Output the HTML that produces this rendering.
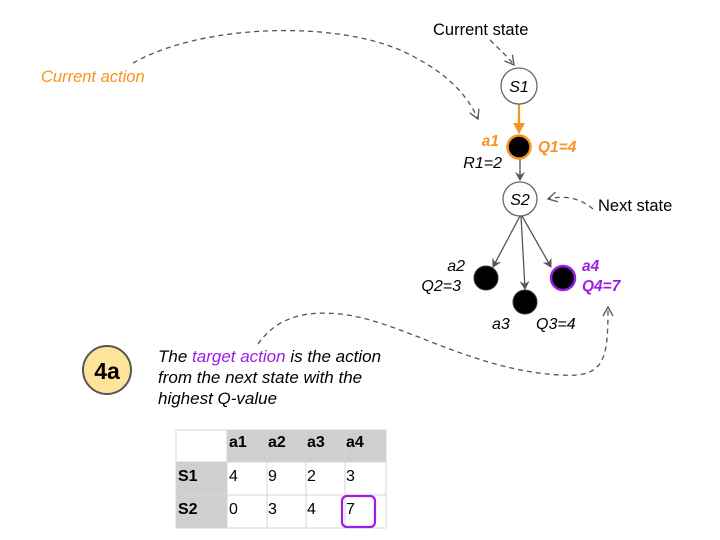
<!DOCTYPE html>
<html><head><meta charset="utf-8"><style>
html,body{margin:0;padding:0;background:#fff;}
svg{display:block;font-family:"Liberation Sans",Arial,sans-serif;}
</style></head><body>
<svg width="720" height="540" viewBox="0 0 720 540" xmlns="http://www.w3.org/2000/svg">
<defs>
<marker id="ag" markerWidth="10" markerHeight="10" refX="8" refY="5" orient="auto" markerUnits="userSpaceOnUse"><path d="M0,0 L9,5 L0,10 L3,5 Z" fill="#555"/></marker>
<marker id="ao" markerWidth="12" markerHeight="12" refX="10" refY="6" orient="auto" markerUnits="userSpaceOnUse"><path d="M0,0 L11,6 L0,12 Z" fill="#f7931e"/></marker>
<marker id="ad" markerWidth="12" markerHeight="12" refX="10" refY="6" orient="auto" markerUnits="userSpaceOnUse"><path d="M1,1 L10,6 L1,11" fill="none" stroke="#555" stroke-width="1.3"/></marker>
</defs>

<path d="M133,63 C200,25 330,20 400,50 C440,68 465,90 478,119" fill="none" stroke="#555" stroke-width="1.3" stroke-dasharray="5,4" marker-end="url(#ad)"/>
<path d="M490,40 C500,50 507,56 514,65" fill="none" stroke="#555" stroke-width="1.3" stroke-dasharray="5,4" marker-end="url(#ad)"/>
<path d="M593,209 C580,198 565,195 548,199" fill="none" stroke="#555" stroke-width="1.3" stroke-dasharray="5,4" marker-end="url(#ad)"/>
<path d="M258,344 C275,320 300,310 340,314 C400,320 470,370 560,375 C605,378 608,360 608,307" fill="none" stroke="#555" stroke-width="1.3" stroke-dasharray="5,4" marker-end="url(#ad)"/>

<line x1="519" y1="104" x2="519" y2="133" stroke="#f7931e" stroke-width="2.2" marker-end="url(#ao)"/>
<line x1="520" y1="158" x2="520" y2="180" stroke="#555" stroke-width="1.3" marker-end="url(#ag)"/>
<line x1="520" y1="216" x2="493" y2="267" stroke="#555" stroke-width="1.3" marker-end="url(#ag)"/>
<line x1="521" y1="216" x2="525" y2="289" stroke="#555" stroke-width="1.3" marker-end="url(#ag)"/>
<line x1="522" y1="216" x2="551" y2="267" stroke="#555" stroke-width="1.3" marker-end="url(#ag)"/>

<circle cx="519" cy="86" r="18" fill="#fff" stroke="#666" stroke-width="1.3"/>
<text x="519" y="92" font-size="16" font-style="italic" text-anchor="middle">S1</text>
<circle cx="519" cy="147" r="11.5" fill="#000" stroke="#f7931e" stroke-width="2.5"/>
<circle cx="520" cy="199" r="17" fill="#fff" stroke="#666" stroke-width="1.3"/>
<text x="520" y="205" font-size="16" font-style="italic" text-anchor="middle">S2</text>
<circle cx="486" cy="278" r="12" fill="#000" stroke="#333" stroke-width="1"/>
<circle cx="525" cy="302" r="12" fill="#000" stroke="#333" stroke-width="1"/>
<circle cx="563" cy="278" r="12" fill="#000" stroke="#9b1ee6" stroke-width="2.5"/>

<text x="433" y="35" font-size="16.5">Current state</text>
<text x="41" y="82" font-size="16.5" font-style="italic" fill="#f7931e">Current action</text>
<text x="499" y="146" font-size="15.5" font-style="italic" font-weight="bold" fill="#f7931e" text-anchor="end">a1</text>
<text x="538" y="152" font-size="15.5" font-style="italic" font-weight="bold" fill="#f7931e">Q1=4</text>
<text x="502" y="168" font-size="16" font-style="italic" text-anchor="end">R1=2</text>
<text x="598" y="211" font-size="16.5">Next state</text>
<text x="465" y="271" font-size="16" font-style="italic" text-anchor="end">a2</text>
<text x="461" y="291" font-size="16" font-style="italic" text-anchor="end">Q2=3</text>
<text x="582" y="271" font-size="15.5" font-style="italic" font-weight="bold" fill="#9b1ee6">a4</text>
<text x="582" y="291" font-size="15.5" font-style="italic" font-weight="bold" fill="#9b1ee6">Q4=7</text>
<text x="492" y="329" font-size="16" font-style="italic">a3</text>
<text x="536" y="329" font-size="16" font-style="italic">Q3=4</text>

<circle cx="107" cy="370" r="24" fill="#fee49a" stroke="#555" stroke-width="2"/>
<text x="107" y="379" font-size="23" font-weight="bold" text-anchor="middle">4a</text>
<g font-size="17" font-style="italic">
<text x="158" y="362">The <tspan fill="#9b1ee6">target action</tspan> is the action</text>
<text x="158" y="383">from the next state with the</text>
<text x="158" y="404">highest Q-value</text>
</g>

<g stroke="#d4d4d4" stroke-width="1">
<rect x="227" y="430" width="159" height="32" fill="#cfcfcf"/>
<rect x="176" y="462" width="51" height="66" fill="#cfcfcf"/>
<rect x="176" y="430" width="210" height="98" fill="none"/>
<line x1="227" y1="430" x2="227" y2="528"/>
<line x1="267" y1="430" x2="267" y2="528"/>
<line x1="306" y1="430" x2="306" y2="528"/>
<line x1="345" y1="430" x2="345" y2="528"/>
<line x1="176" y1="462" x2="386" y2="462"/>
<line x1="176" y1="495" x2="386" y2="495"/>
</g>
<g font-size="16" font-weight="bold">
<text x="229" y="447">a1</text><text x="268" y="447">a2</text><text x="307" y="447">a3</text><text x="346" y="447">a4</text>
<text x="178" y="481">S1</text><text x="178" y="514">S2</text>
</g>
<g font-size="16">
<text x="229" y="481">4</text><text x="268" y="481">9</text><text x="307" y="481">2</text><text x="346" y="481">3</text>
<text x="229" y="514">0</text><text x="268" y="514">3</text><text x="307" y="514">4</text><text x="346" y="514">7</text>
</g>
<rect x="342" y="496" width="33" height="31" rx="5" fill="none" stroke="#9b1ee6" stroke-width="2.2"/>
</svg>
</body></html>
